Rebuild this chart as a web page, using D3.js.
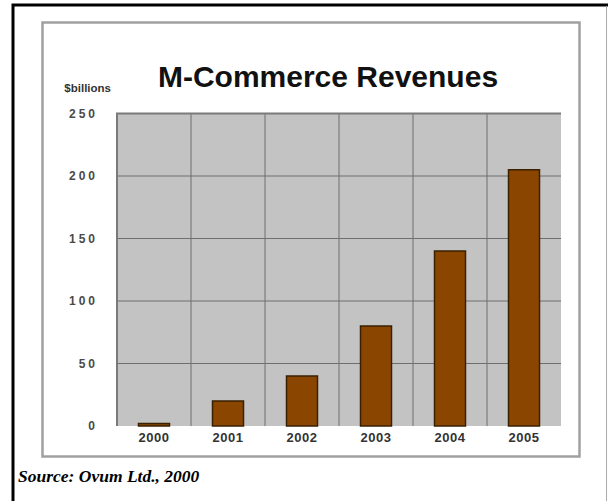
<!DOCTYPE html>
<html>
<head>
<meta charset="utf-8">
<script src="https://cdn.jsdelivr.net/npm/d3@7/dist/d3.min.js"></script>
<style>
  html, body { margin: 0; padding: 0; background: #fff; }
  svg { display: block; }
</style>
</head>
<body>
<script>
// Revenue data, $ billions
const years = ["2000", "2001", "2002", "2003", "2004", "2005"];
const revenues = [2, 20, 40, 80, 140, 205];
const yTicks = [0, 50, 100, 150, 200, 250];

const W = 608, H = 501;
const plot = { left: 117, right: 561, top: 113.5, bottom: 426 };

const svg = d3.select("body").append("svg")
  .attr("width", W).attr("height", H);

// outer black frame (runs past the right and bottom edges)
svg.append("rect")
  .attr("x", 13).attr("y", 5).attr("width", 640).attr("height", 560)
  .attr("fill", "none").attr("stroke", "#000").attr("stroke-width", 3);
svg.append("line")
  .attr("x1", 606.5).attr("x2", 606.5).attr("y1", 6).attr("y2", H)
  .attr("stroke", "#aaa").attr("stroke-width", 1);

// grey chart frame
svg.append("rect")
  .attr("x", 42.5).attr("y", 22.5).attr("width", 537).attr("height", 434)
  .attr("fill", "#fff").attr("stroke", "#a0a0a0").attr("stroke-width", 2.5);

const x = d3.scaleBand().domain(years).range([plot.left, plot.right]).paddingInner(0).paddingOuter(0);
const y = d3.scaleLinear().domain([0, 250]).range([plot.bottom, plot.top]);

// plot background
svg.append("rect")
  .attr("x", plot.left).attr("y", plot.top)
  .attr("width", plot.right - plot.left).attr("height", plot.bottom - plot.top)
  .attr("fill", "#c3c3c3");

// horizontal gridlines
svg.append("g").selectAll("line").data(yTicks.filter(d => d > 0)).join("line")
  .attr("x1", plot.left).attr("x2", plot.right)
  .attr("y1", d => y(d)).attr("y2", d => y(d))
  .attr("stroke", "#6e6e6e").attr("stroke-width", 1);

// vertical gridlines at category boundaries
svg.append("g").selectAll("line").data(years.slice(1)).join("line")
  .attr("x1", d => x(d)).attr("x2", d => x(d))
  .attr("y1", plot.top).attr("y2", plot.bottom)
  .attr("stroke", "#6e6e6e").attr("stroke-width", 1);

// plot border
svg.append("path")
  .attr("d", `M${plot.left},${plot.bottom}V${plot.top}H${plot.right}`)
  .attr("fill", "none").attr("stroke", "#7a7a7a").attr("stroke-width", 2);

// bars
const barW = 31;
svg.append("g").selectAll("rect").data(years).join("rect")
  .attr("x", d => x(d) + x.bandwidth() / 2 - barW / 2)
  .attr("y", (d, i) => y(revenues[i]))
  .attr("width", barW)
  .attr("height", (d, i) => y(0) - y(revenues[i]))
  .attr("fill", "#8a4600")
  .attr("stroke", "#3a2000").attr("stroke-width", 1.5);

// y axis labels
const yAxis = d3.axisLeft(y).tickValues(yTicks).tickSize(0).tickPadding(0);
const gy = svg.append("g").attr("transform", `translate(${98},0)`).call(yAxis);
gy.select(".domain").remove();
gy.selectAll("text")
  .attr("font-family", "Arial, 'Liberation Sans', sans-serif")
  .attr("font-size", 12).attr("font-weight", "bold")
  .attr("letter-spacing", "3px")
  .attr("fill", "#4a4a4a");

// x axis labels
const xAxis = d3.axisBottom(x).tickSize(0).tickPadding(0);
const gx = svg.append("g").attr("transform", `translate(0,${plot.bottom + 7})`).call(xAxis);
gx.select(".domain").remove();
gx.selectAll("text")
  .attr("font-family", "Arial, 'Liberation Sans', sans-serif")
  .attr("font-size", 13).attr("font-weight", "bold")
  .attr("letter-spacing", "0.5px")
  .attr("fill", "#333");

// unit label
svg.append("text")
  .attr("x", 111).attr("y", 92).attr("text-anchor", "end")
  .attr("font-family", "Arial, 'Liberation Sans', sans-serif")
  .attr("font-size", 11.5).attr("font-weight", "bold")
  .attr("fill", "#333")
  .text("$billions");

// title
svg.append("text")
  .attr("x", 328).attr("y", 87).attr("text-anchor", "middle")
  .attr("font-family", "Arial, 'Liberation Sans', sans-serif")
  .attr("font-size", 30).attr("font-weight", "bold")
  .attr("fill", "#111")
  .text("M-Commerce Revenues");

// source note
svg.append("text")
  .attr("x", 18).attr("y", 482)
  .attr("font-family", "'Times New Roman', 'Liberation Serif', serif")
  .attr("font-size", 17.5).attr("font-weight", "bold").attr("font-style", "italic")
  .attr("fill", "#000")
  .text("Source: Ovum Ltd., 2000");
</script>
</body>
</html>
